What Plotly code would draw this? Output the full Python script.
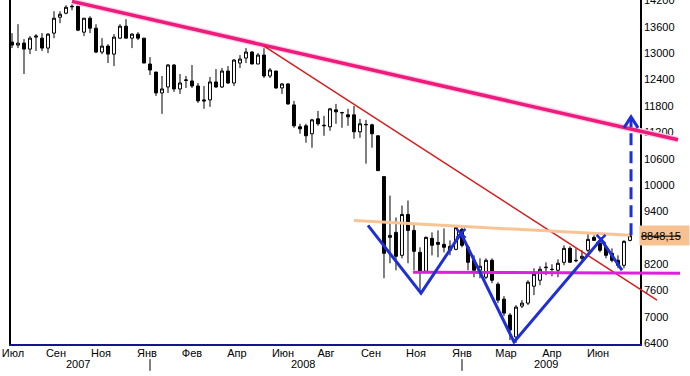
import plotly.graph_objects as go

# Weekly candles (index 0..103)
opens = [13254,13186,13231,13095,13367,13344,13118,13458,13820,13911,14070,14070,13480,13798,13571,13027,13163,12981,13344,13616,
         13344,13435,13344,12755,12573,12097,12233,12732,12188,12380,12369,12256,11939,11939,12347,12233,12596,12324,12777,12891,
         13027,12755,12959,12483,12596,12211,12301,11825,11327,11349,11168,11508,11349,11327,11712,11644,11599,11599,11213,11372,
         11372,11123,10193,8810,8924,8402,9332,8969,8470,8039,8788,8697,8652,8516,8538,8992,8584,8289,8062,7903,
         8289,7745,7405,7042,6543,7246,7314,7699,7835,8120,8085,8062,8243,8561,8289,8334,8516,8810,8674,8584,
         8447,8289,8175,8742]
highs = [13458,13661,13322,13390,13435,13458,13458,13956,13956,14092,14115,14092,13798,13843,13661,13344,13208,13435,13661,13775,
         13458,13480,13344,12913,12573,12483,12755,12755,12528,12483,12732,12324,12256,12460,12641,12664,12709,12868,12959,13118,
         13050,13004,13163,12664,12596,12324,12324,11916,11395,11395,11508,11689,11576,11757,11848,11667,11735,11803,11508,11485,
         11395,11123,10193,9762,9264,9536,9649,9128,8584,8833,8924,8969,9014,8742,9037,9037,8629,8402,8334,8334,
         8334,7790,7473,7087,7269,7382,7835,8107,8153,8243,8198,8311,8629,8606,8561,8516,8901,8856,8788,8629,
         8561,8402,8742,8901]
lows = [13118,13118,12528,12981,13050,13050,13004,13344,13684,13888,13979,13503,13390,13458,13004,12981,12777,12709,13322,13344,
        13118,13299,12777,12505,12029,11621,12097,12120,12075,12211,12211,11871,11735,11780,12211,12211,12301,12256,12664,12777,
        12755,12755,12437,12437,12188,12075,11825,11304,11168,10964,10850,11349,11123,11236,11395,11304,11349,11055,11077,10488,
        10850,10329,7881,8221,8062,8334,8221,8062,7541,8017,8402,8357,8470,8402,8516,8584,8062,7903,7881,7858,
        7767,7314,7019,6475,6407,7201,7269,7496,7722,7949,7926,7903,8175,8243,8243,8243,8470,8742,8470,8334,
        8243,8107,8107,8720]
closes = [13186,13231,13095,13344,13390,13118,13435,13798,13888,14047,14060,13526,13798,13571,13027,13163,12981,13367,13616,13344,
          13435,13344,12777,12619,12097,12188,12732,12188,12324,12392,12256,11916,11916,12347,12233,12596,12324,12845,12868,13027,
          12755,12959,12483,12619,12211,12301,11848,11349,11281,11123,11485,11395,11360,11735,11667,11650,11553,11213,11395,11380,
          11168,10329,8447,8856,8380,9332,8969,8493,8017,8810,8629,8652,8584,8606,9037,8629,8243,8062,8153,8289,
          7835,7382,7087,6702,7223,7314,7790,7971,8085,8130,8080,8221,8561,8243,8280,8380,8765,8742,8516,8402,
          8289,8175,8720,8848]
idx = list(range(len(closes)))

month_pos = [0.17, 7.33, 14.83, 22.5, 30, 37.5, 45.17, 52.33, 59.83, 67.33, 75, 82.33, 90, 97.67]
month_txt = ["Июл", "Сен", "Ноя", "Янв", "Фев", "Апр", "Июн", "Авг", "Сен", "Ноя", "Янв", "Мар", "Апр", "Июн"]
year_pos = [11, 48.5, 89]
year_txt = ["2007", "2008", "2009"]
year_mark_pos = [23, 75]
# 8800 sits under the last-price box in the reference
y_ticks = [6400, 7000, 7600, 8200, 9400, 10000, 10600, 11200, 11800, 12400, 13000, 13600, 14200]

# Analyst drawings (index, price)
pink_x, pink_y = [10, 111], [14180, 11032]
red_x, red_y = [42, 107.5], [13163, 7382]
peach_x, peach_y = [57, 103], [9195, 8856]
mag_x, mag_y = [66.83, 111.33], [8017, 7995]
zig_x = [59.33, 68.17, 74.83, 83.67, 98.17, 101.67]
zig_y = [9082, 7541, 8901, 6430, 8765, 8062]
arrow_x, arrow_from, arrow_to = 103.17, 8856, 11553
last_label = "8848,15"

BLUE = "#1F2FD6"
FONT = dict(family="Liberation Sans, Arial, sans-serif", size=11, color="black")

fig = go.Figure()
fig.add_trace(go.Candlestick(
    x=idx, open=opens, high=highs, low=lows, close=closes,
    increasing=dict(line=dict(color="black", width=1), fillcolor="white"),
    decreasing=dict(line=dict(color="black", width=1), fillcolor="black"),
    whiskerwidth=0, xaxis="x", yaxis="y", showlegend=False, hoverinfo="skip"))

def line(x, y, color, width, dash=None):
    fig.add_trace(go.Scatter(x=x, y=y, mode="lines", xaxis="x2", yaxis="y",
                             line=dict(color=color, width=width, dash=dash),
                             showlegend=False, hoverinfo="skip"))

line(pink_x, pink_y, "#FAD2E0", 6)
line(pink_x, pink_y, "#EE1A7E", 3.5)
line(red_x, red_y, "#D41E1E", 1.5)
line(peach_x, peach_y, "#F8C496", 3)
line(mag_x, mag_y, "#E01EE0", 3)
line(zig_x, zig_y, BLUE, 3)
fig.add_trace(go.Scatter(x=[zig_x[2], zig_x[4]], y=[zig_y[2], zig_y[4]], mode="markers", xaxis="x2", yaxis="y",
                         marker=dict(symbol="x-thin", size=9, line=dict(color=BLUE, width=2.5)),
                         showlegend=False, hoverinfo="skip"))
line([arrow_x, arrow_x], [arrow_from, arrow_to - 60], BLUE, 3, "12px,6px")
line([arrow_x - 1.17, arrow_x, arrow_x + 1.17], [arrow_to - 250, arrow_to, arrow_to - 250], BLUE, 3)

annotations = []
for p, t in zip(year_pos, year_txt):
    annotations.append(dict(x=p, y=-0.058, xref="x", yref="paper", text=t, showarrow=False,
                            font=FONT, xanchor="center", yanchor="middle"))
annotations.append(dict(x=1, y=closes[-1], xref="paper", yref="y", text="<s>" + last_label + "</s>",
                        showarrow=False, font=FONT, xanchor="right", yanchor="middle",
                        bgcolor="#F7C192", width=47, height=17, align="left", borderpad=1))

shapes = [dict(type="line", xref="x", yref="paper", x0=p, x1=p, y0=-0.044, y1=-0.078,
               line=dict(color="black", width=1)) for p in year_mark_pos]

fig.update_layout(
    width=690, height=376, margin=dict(l=11, r=0, t=0, b=32, autoexpand=False),
    paper_bgcolor="white", plot_bgcolor="rgba(0,0,0,0)",
    showlegend=False, font=FONT,
    xaxis=dict(domain=[0, 629 / 679], range=[-1 / 6, 104.67], anchor="y",
               tickvals=month_pos, ticktext=month_txt, ticks="", showgrid=False, zeroline=False,
               showline=True, linecolor="#14148C", linewidth=2, rangeslider=dict(visible=False),
               tickfont=FONT, ticklabelstandoff=-2, automargin=False),
    xaxis2=dict(domain=[0, 1], range=[-1 / 6, 113.0], anchor="y", visible=False,
                showgrid=False, zeroline=False),
    yaxis=dict(domain=[0, 1], range=[6384, 14212], side="right", anchor="x",
               tickvals=y_ticks, ticktext=[str(v) for v in y_ticks], ticks="", showgrid=False, zeroline=False,
               showline=True, mirror=True, linecolor="black", linewidth=1.5, tickfont=FONT,
               ticklabeloverflow="allow", automargin=False),
    annotations=annotations,
    shapes=shapes,
    boxgap=0.3,
)
fig.write_html("out.html")
